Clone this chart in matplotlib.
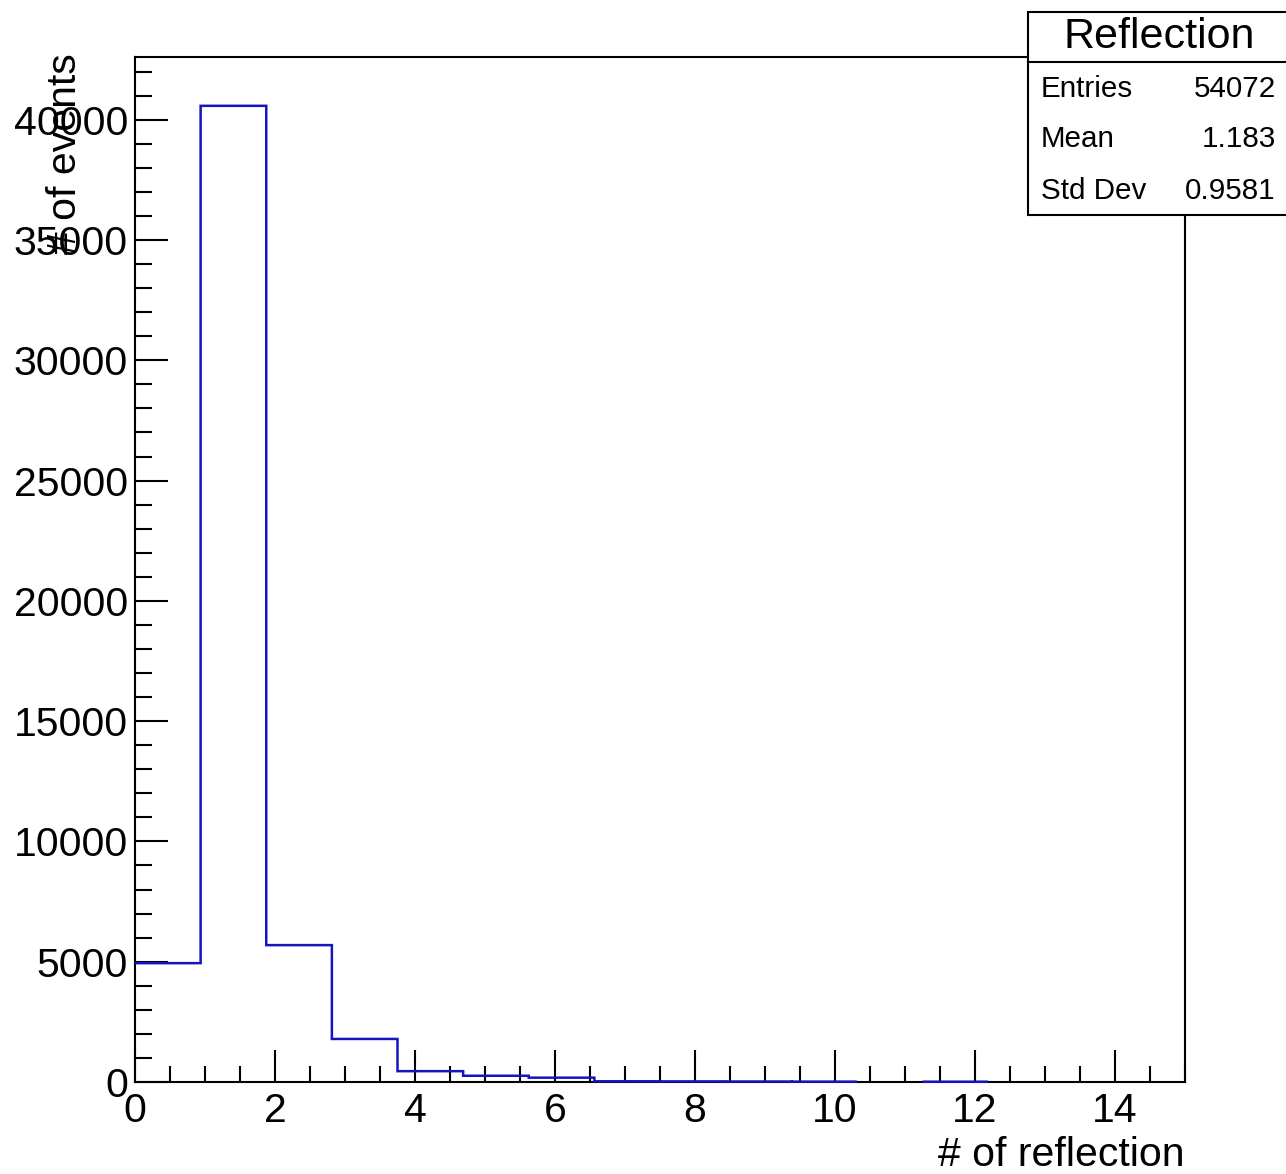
import numpy as np
import matplotlib
matplotlib.use("Agg")
import matplotlib.pyplot as plt
from matplotlib.patches import Rectangle
from matplotlib.lines import Line2D
from matplotlib.ticker import MultipleLocator

plt.rcParams['font.family'] = ['Liberation Sans', 'DejaVu Sans']

# *********************
# DATA
# *********************
x_min, x_max, n_bins = 0, 15, 16
counts = [4940, 40580, 5690, 1790, 450, 260, 180, 30, 25, 20, 15, 0, 12, 0, 0, 0]
stats_title = "Reflection"
stats_names = ["Entries", "Mean", "Std Dev"]
stats_values = ["54072", "1.183", "0.9581"]
x_label = "# of reflection"
y_label = "# of events"

W, H = 1286, 1174
fig = plt.figure(figsize=(W / 100, H / 100), dpi=100)


def fx(px):
    return px / W


def fy(py):
    return 1 - py / H


ax = fig.add_axes([fx(135), fy(1082), fx(1185) - fx(135), fy(57) - fy(1082)])

edges = np.linspace(x_min, x_max, n_bins + 1)
vals = np.array(counts, dtype=float)

# empty bins are not drawn (ROOT clips them on the frame): draw each run of filled bins
i = 0
while i < n_bins:
    if vals[i] == 0:
        i += 1
        continue
    j = i
    while j < n_bins and vals[j] > 0:
        j += 1
    ax.stairs(vals[i:j], edges[i:j + 1], color='#1515c0', linewidth=1.8,
              baseline=None, zorder=4, clip_on=False, snap=False)
    i = j

ax.set_xlim(x_min, x_max)
ax.set_ylim(0, max(counts) * 1.05)

ax.xaxis.set_major_locator(MultipleLocator(2))
ax.xaxis.set_minor_locator(MultipleLocator(0.5))
ax.yaxis.set_major_locator(MultipleLocator(5000))
ax.yaxis.set_minor_locator(MultipleLocator(1000))

ax.tick_params(which='both', direction='in', top=False, right=False, width=1.5, labelsize=29.5, colors='black')
ax.tick_params(axis='x', which='major', length=23, pad=7)
ax.tick_params(axis='x', which='minor', length=11.5)
ax.tick_params(axis='y', which='major', length=23.8, pad=5)
ax.tick_params(axis='y', which='minor', length=12.2)
for s in ax.spines.values():
    s.set_linewidth(1.5)
    s.set_zorder(3)

# axis titles, placed like ROOT does (right / top aligned)
fig.text(fx(1185), fy(1155), x_label, ha='right', va='center', fontsize=29.5)
fig.text(fx(65), fy(53), y_label, ha='center', va='top', rotation=90, fontsize=29.5)

# *********************
# STATS BOX
# *********************
bx0, by0, bx1, by1 = 1028, 12, 1292, 215
fig.patches.append(Rectangle((fx(bx0), fy(by1)), fx(bx1) - fx(bx0), fy(by0) - fy(by1),
                             transform=fig.transFigure, facecolor='white', edgecolor='black',
                             linewidth=1.5, zorder=10))
fig.lines.append(Line2D([fx(bx0), fx(bx1)], [fy(62), fy(62)], transform=fig.transFigure,
                        color='black', linewidth=1.5, zorder=11))
fig.text(fx(1159), fy(37), stats_title, ha='center', va='center', fontsize=31, zorder=12)
row_y = [89, 139, 191]
for name, val, ry in zip(stats_names, stats_values, row_y):
    fig.text(fx(1041), fy(ry), name, ha='left', va='center', fontsize=21.3, zorder=12)
    fig.text(fx(1276), fy(ry), val, ha='right', va='center', fontsize=21.3, zorder=12)

fig.savefig("out.png", dpi=100)
